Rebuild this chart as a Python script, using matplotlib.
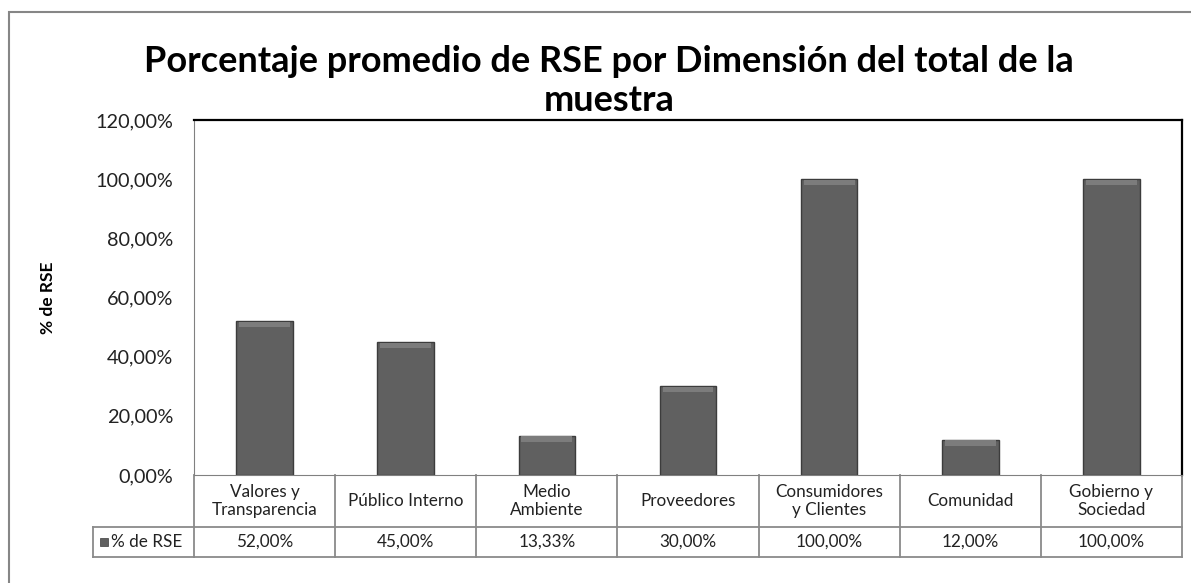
import numpy as np
import matplotlib
matplotlib.use("Agg")
import matplotlib.pyplot as plt
from matplotlib.patches import Rectangle
from matplotlib.lines import Line2D

# datos del gráfico
categorias = ["Valores y\nTransparencia", "Público Interno", "Medio\nAmbiente", "Proveedores",
              "Consumidores\ny Clientes", "Comunidad", "Gobierno y\nSociedad"]
valores = [52.00, 45.00, 13.33, 30.00, 100.00, 12.00, 100.00]
etiquetas_valor = ["52,00%", "45,00%", "13,33%", "30,00%", "100,00%", "12,00%", "100,00%"]
yticks = [0, 20, 40, 60, 80, 100, 120]
ytick_labels = ["0,00%", "20,00%", "40,00%", "60,00%", "80,00%", "100,00%", "120,00%"]
serie = "% de RSE"
titulo = "Porcentaje promedio de RSE por Dimensión del total de la\nmuestra"

plt.rcParams['font.family'] = ['Lato', 'DejaVu Sans']

W, H = 1191, 583
fig = plt.figure(figsize=(W / 100, H / 100), dpi=100)

# marco exterior gris
fig.add_artist(Rectangle((9 / W, -0.1), 1.2, 1.1 - 12 / H, transform=fig.transFigure,
                         fill=False, edgecolor="#868686", lw=1.5))

# área de trazado (px): izq 194, der 1182, arriba 120, abajo 475
left, right, top, bottom = 194, 1182, 120, 475
ax = fig.add_axes([left / W, 1 - bottom / H, (right - left) / W, (bottom - top) / H])

x = np.arange(len(valores))
ax.bar(x, valores, width=0.4, color="#606060", edgecolor="#3c3c3c", linewidth=1, zorder=2)
# bisel superior
bisel = 1.8
ax.bar(x, [bisel] * len(valores), bottom=np.array(valores) - bisel - 0.3, width=0.36,
       color="#7c7c7c", edgecolor="none", zorder=3)

ax.set_xlim(-0.5, len(valores) - 0.5)
ax.set_ylim(0, 120)
ax.set_yticks(yticks)
ax.set_yticklabels(ytick_labels, fontsize=14.3, color="#222222")
ax.tick_params(axis="y", length=0, pad=15)
ax.set_xticks([])

for s in ["top", "right"]:
    ax.spines[s].set_color("black")
    ax.spines[s].set_linewidth(1.6)
ax.spines["left"].set_color("#808080")
ax.spines["bottom"].set_color("#808080")

ax.set_ylabel(serie, fontsize=12.5, fontweight="bold")
ax.yaxis.set_label_coords(-0.14, 0.5)

fig.text(609 / W, 1 - 81 / H, titulo, ha="center", va="center", fontsize=26,
         fontweight="bold", linespacing=1.2)

# tabla de datos bajo el eje
h_ax = bottom - top
y_cat = -52 / h_ax
y_val = -82 / h_ax
trans = ax.get_xaxis_transform()
gris = "#8a8a8a"
lineas = []
for xb in np.arange(-0.5, len(valores), 1.0):
    lineas.append(([xb, xb], [0, y_val]))
lineas.append(([-0.5, len(valores) - 0.5], [y_cat, y_cat]))
lineas.append(([-0.5, len(valores) - 0.5], [y_val, y_val]))
for xs, ys in lineas:
    ax.add_line(Line2D(xs, ys, transform=trans, color=gris, lw=1.3, clip_on=False))

for xi, cat, val in zip(x, categorias, etiquetas_valor):
    ax.text(xi, y_cat / 2, cat, transform=trans, ha="center", va="center",
            fontsize=12.3, color="#222222", clip_on=False, linespacing=1.2)
    ax.text(xi, (y_cat + y_val) / 2, val, transform=trans, ha="center", va="center",
            fontsize=12.3, color="#222222", clip_on=False)

# celda de leyenda
axt = ax.transAxes
lx = (93 - left) / (right - left)
for xs, ys in [([lx, 0], [y_cat, y_cat]), ([lx, 0], [y_val, y_val]), ([lx, lx], [y_cat, y_val])]:
    ax.add_line(Line2D(xs, ys, transform=axt, color=gris, lw=1.3, clip_on=False))
sx = (100 - left) / (right - left)
sw = 8 / (right - left)
sh = 8 / h_ax
ax.add_patch(Rectangle((sx, (y_cat + y_val) / 2 - sh / 2), sw, sh, transform=axt,
                       facecolor="#606060", edgecolor="#3c3c3c", lw=0.5, clip_on=False))
ax.text((111 - left) / (right - left), (y_cat + y_val) / 2, serie, transform=axt,
        ha="left", va="center", fontsize=12.3, color="#222222", clip_on=False)

fig.savefig("out.png", dpi=100)
